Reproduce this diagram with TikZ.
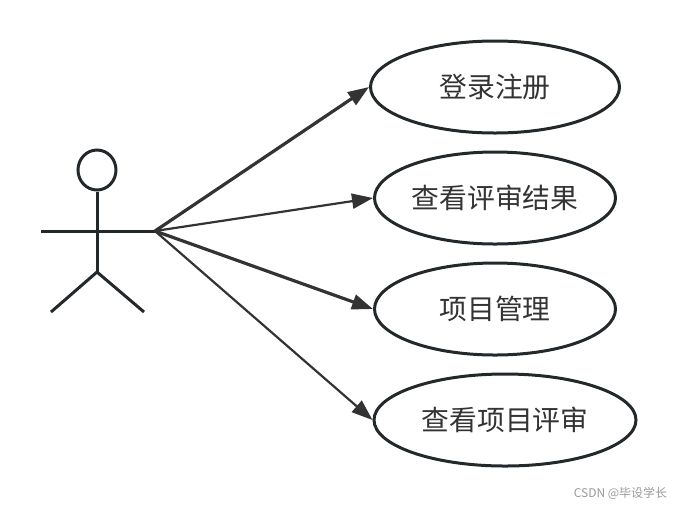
\documentclass[tikz,border=0pt]{standalone}
\usepackage{fontspec}
\setmainfont{Noto Sans CJK SC}[Scale=1]
\usepackage{tikz}
\usetikzlibrary{arrows.meta,shapes.geometric,positioning,calc}
\definecolor{inkdark}{HTML}{23282B}
\definecolor{arrowdark}{HTML}{333333}
\tikzset{
  usecase/.style={ellipse,draw=inkdark,line width=3pt,inner sep=0pt,text=arrowdark,font=\fontsize{27.8}{30}\selectfont},
  stick/.style={draw=inkdark,line width=3pt},
  assoc/.style={-{Triangle[length=21pt,width=15pt]},draw=arrowdark},
}

\begin{document}
\begin{tikzpicture}[x=1pt,y=-1pt]
  \useasboundingbox (0,0) rectangle (676,507);

  \node[usecase,minimum width=249pt,minimum height=92pt] (login) at (495,87) {登录注册};
  \node[usecase,minimum width=241pt,minimum height=92pt] (result) at (495,198) {查看评审结果};
  \node[usecase,minimum width=241pt,minimum height=92pt] (project) at (495,309) {项目管理};
  \node[usecase,minimum width=262pt,minimum height=92pt] (review) at (505,420) {查看项目评审};

  \node[ellipse,stick,minimum width=38pt,minimum height=40pt,inner sep=0pt] (head) at (97,170) {};
  \coordinate (crotch) at (97,272);
  \coordinate (lefthand) at (41,231);
  \coordinate (hand) at (155,231);
  \coordinate (leftfoot) at (51,312);
  \coordinate (rightfoot) at (144,312);

  \draw[stick] (head.south) -- (crotch);
  \draw[stick] (lefthand) -- (hand);
  \draw[stick] (leftfoot) -- (crotch) -- (rightfoot);

  \draw[assoc,line width=3.2pt] (hand) -- (login.west);
  \draw[assoc,line width=2.2pt] (hand) -- (result.west);
  \draw[assoc,line width=3.2pt] (hand) -- (project.west);
  \draw[assoc,line width=2.2pt] (hand) -- (review.west);

  \node[text=black!40,font=\fontsize{12}{14}\selectfont,inner sep=0pt] (mark) at (620.5,493) {CSDN @毕设学长};
\end{tikzpicture}
\end{document}
